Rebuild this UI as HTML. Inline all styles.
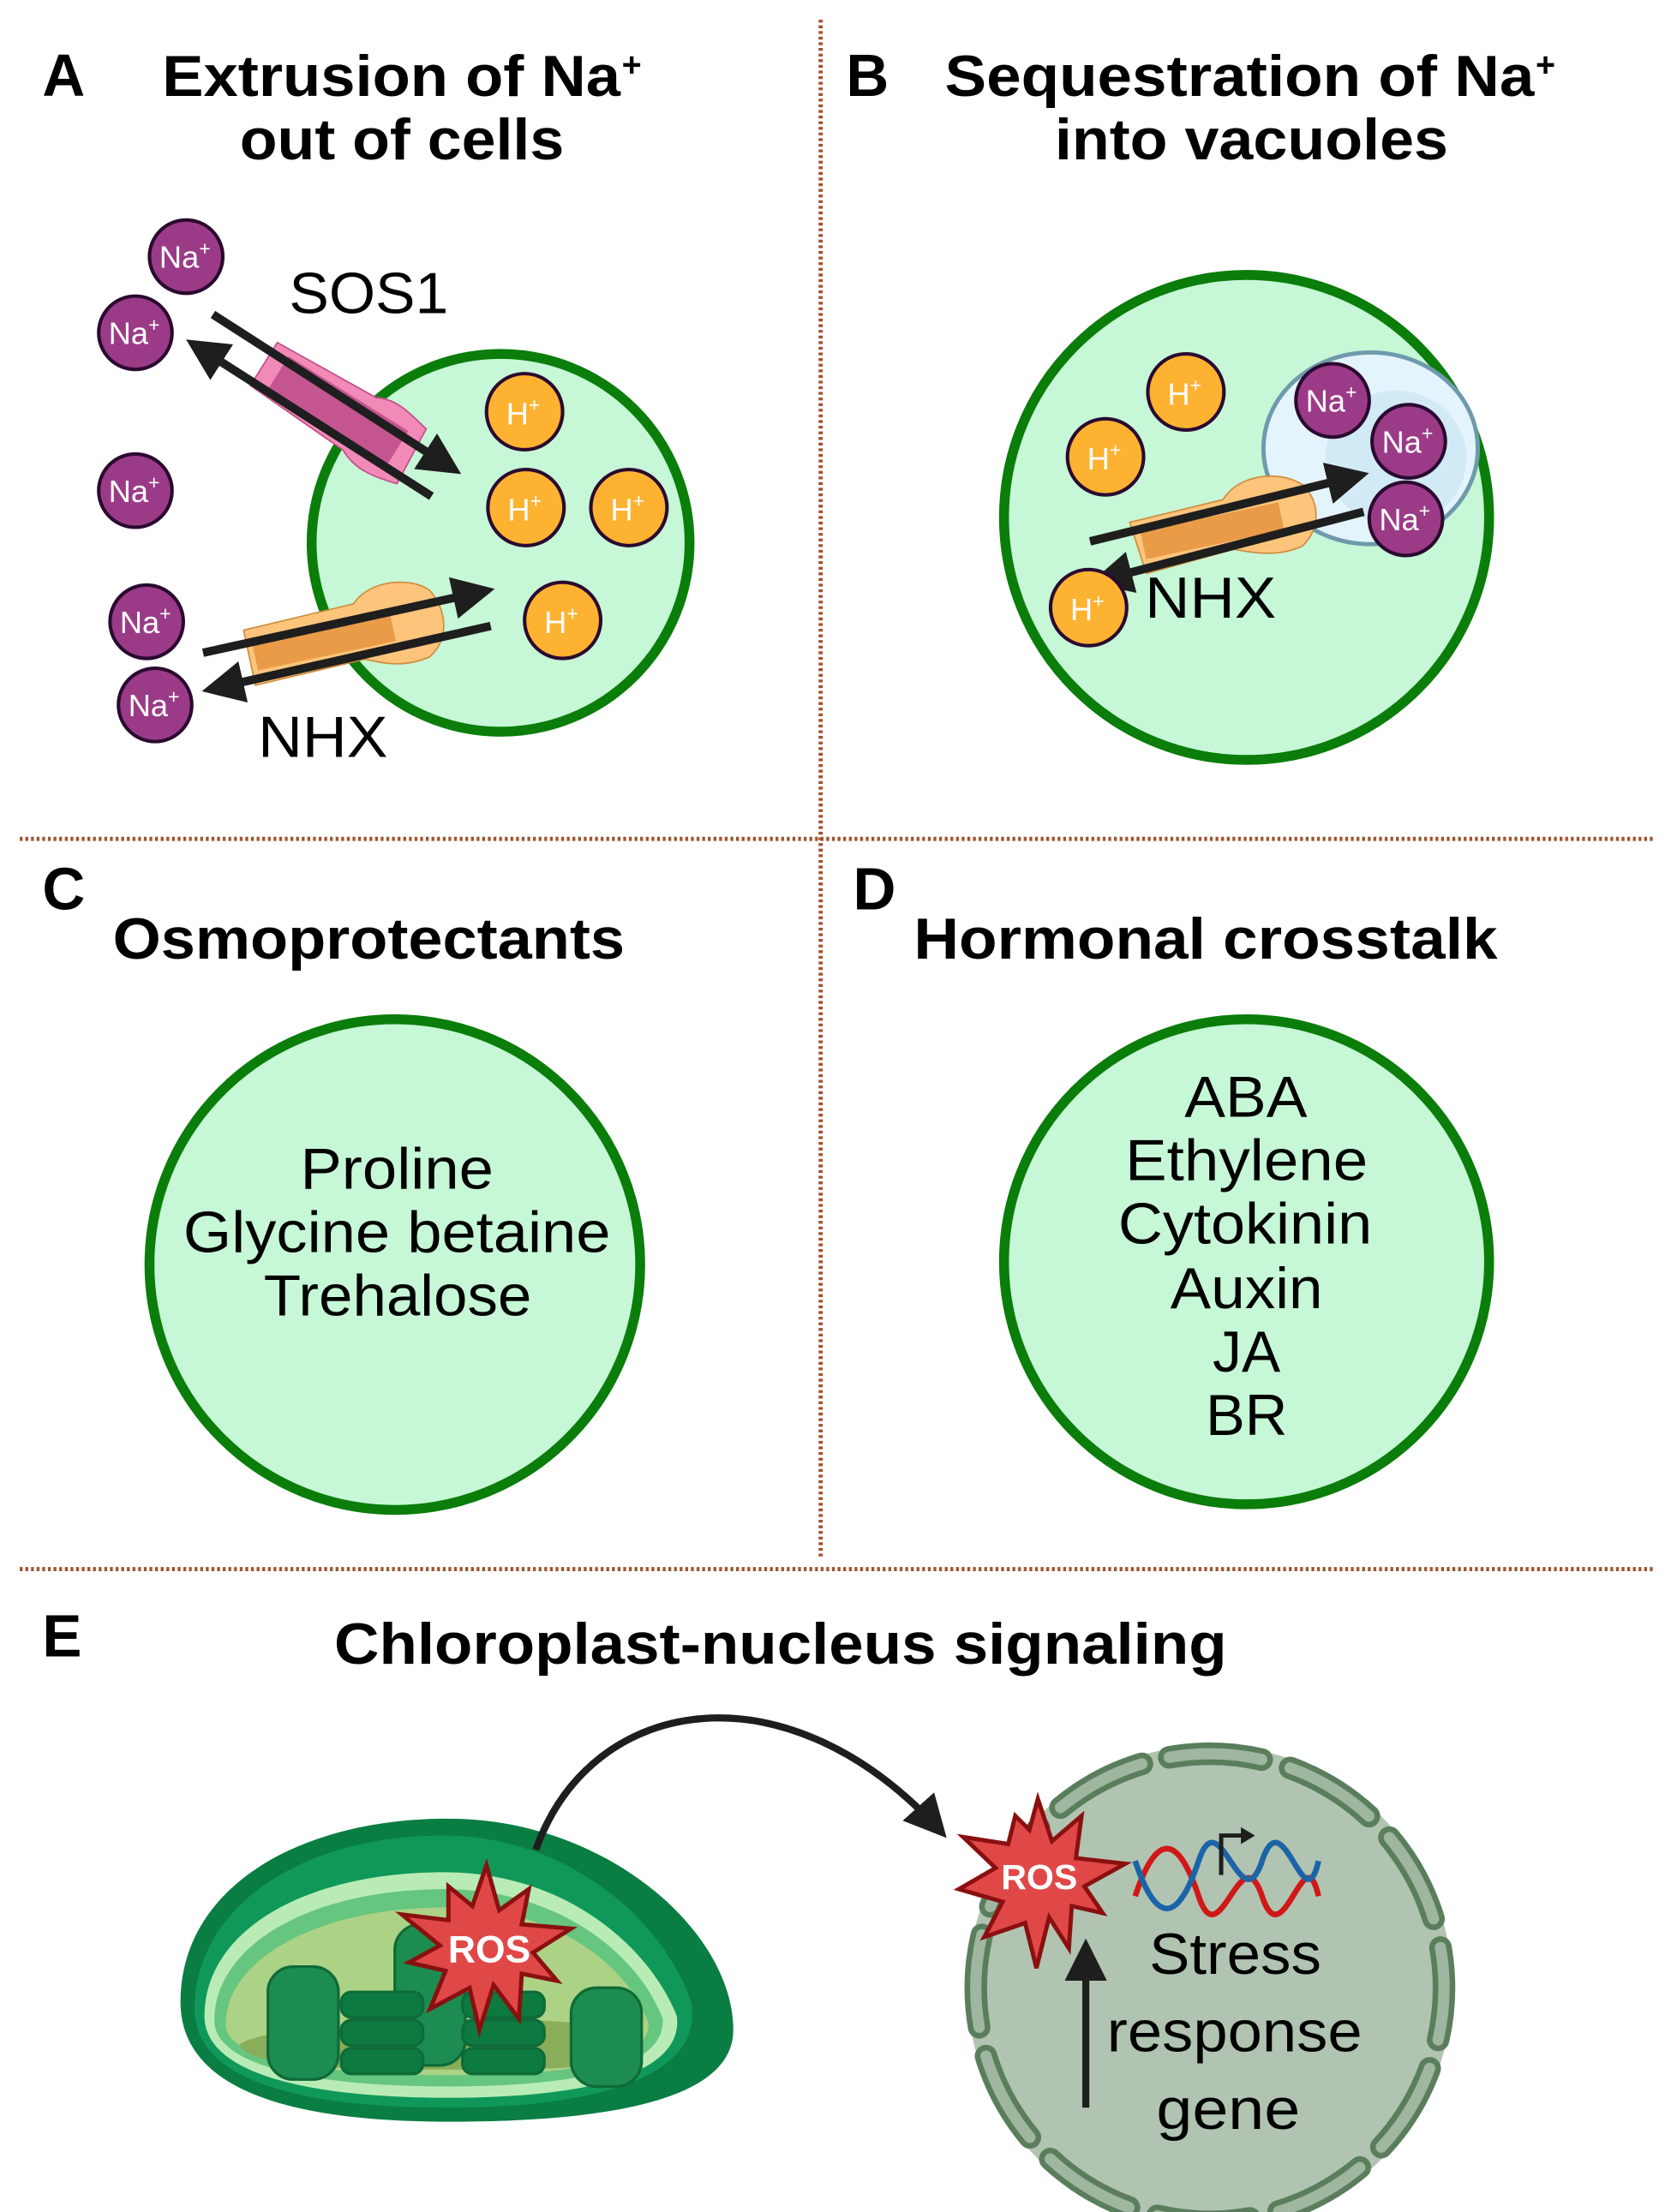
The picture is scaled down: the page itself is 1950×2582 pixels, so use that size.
<!DOCTYPE html>
<html><head><meta charset="utf-8"><style>
html,body{margin:0;padding:0;background:#fff}
svg{display:block}
text{font-family:"Liberation Sans",Arial,sans-serif}
.t{font-weight:bold;font-size:41px;fill:#000}
.l{font-size:41px;fill:#000}
.na{font-size:22px;fill:#fff}
.h{font-size:22px;fill:#fff}
</style></head><body>
<svg width="1950" height="2582" viewBox="0 0 1185 1569" xmlns="http://www.w3.org/2000/svg">
<defs>
<marker id="ah" markerWidth="5" markerHeight="5" refX="4" refY="2.5" orient="auto" markerUnits="strokeWidth">
<path d="M0,0 L5,2.5 L0,5 Z" fill="#1e1e1e"/></marker>
<marker id="ah2" markerWidth="6" markerHeight="6" refX="5" refY="3" orient="auto" markerUnits="strokeWidth">
<path d="M0,0 L6,3 L0,6 Z" fill="#1e1e1e"/></marker>
</defs>
<rect width="1185" height="1569" fill="#fff"/>
<g stroke="#a0522d" stroke-width="3" stroke-dasharray="2,2">
<line x1="582" y1="14" x2="582" y2="1106"/>
<line x1="14" y1="595" x2="1173" y2="595"/>
<line x1="14" y1="1113" x2="1173" y2="1113"/>
</g>

<!-- Panel A -->
<text class="t" x="30" y="68" style="font-size:42px">A</text>
<text class="t" x="115" y="68" textLength="325" lengthAdjust="spacingAndGlyphs">Extrusion of Na</text>
<text class="t" x="441" y="54" style="font-size:24px">+</text>
<text class="t" x="170" y="113" textLength="230" lengthAdjust="spacingAndGlyphs">out of cells</text>
<circle cx="355" cy="385" r="134" fill="#c6f7d6" stroke="#0a7d0a" stroke-width="7"/>
<g transform="translate(238,290) rotate(32)">
<path d="M-60,-18 L20,-22 C35,-30 50,-24 62,-22 L65,22 C50,26 35,30 20,22 L-60,18 Z" fill="#f28ab8" stroke="#c04a8a" stroke-width="1"/>
<rect x="-48" y="-14" width="100" height="28" fill="#c45590"/>
</g>
<line x1="151" y1="223" x2="322" y2="333" stroke="#1e1e1e" stroke-width="6" marker-end="url(#ah)"/>
<line x1="306" y1="352" x2="137" y2="244" stroke="#1e1e1e" stroke-width="6" marker-end="url(#ah)"/>
<text class="l" x="205" y="222" textLength="113" lengthAdjust="spacingAndGlyphs">SOS1</text>
<g transform="translate(245,450) rotate(-12)">
<path d="M-70,-18 L10,-20 C25,-35 55,-30 65,-18 C75,0 70,20 55,28 C35,32 20,25 10,20 L-70,22 Z" fill="#fdc47c" stroke="#d08a3a" stroke-width="1"/>
<rect x="-66" y="-10" width="100" height="22" fill="#e99b48"/>
</g>
<line x1="144" y1="463" x2="345" y2="419" stroke="#1e1e1e" stroke-width="6" marker-end="url(#ah)"/>
<line x1="348" y1="444" x2="149" y2="489" stroke="#1e1e1e" stroke-width="6" marker-end="url(#ah)"/>
<text class="l" x="183" y="537" textLength="92" lengthAdjust="spacingAndGlyphs">NHX</text>
<g stroke="#2a0a30" stroke-width="2.5">
<circle cx="132" cy="182" r="26" fill="#9b3b87"/>
<circle cx="96" cy="236" r="26" fill="#9b3b87"/>
<circle cx="96" cy="348" r="26" fill="#9b3b87"/>
<circle cx="104" cy="441" r="26" fill="#9b3b87"/>
<circle cx="110" cy="500" r="26" fill="#9b3b87"/>
<circle cx="372" cy="292" r="27" fill="#fdb232"/>
<circle cx="373" cy="360" r="27" fill="#fdb232"/>
<circle cx="446" cy="360" r="27" fill="#fdb232"/>
<circle cx="399" cy="440" r="27" fill="#fdb232"/>
</g>
<text class="na" x="113" y="190">Na<tspan font-size="14" dy="-9">+</tspan></text>
<text class="na" x="77" y="244">Na<tspan font-size="14" dy="-9">+</tspan></text>
<text class="na" x="77" y="356">Na<tspan font-size="14" dy="-9">+</tspan></text>
<text class="na" x="85" y="449">Na<tspan font-size="14" dy="-9">+</tspan></text>
<text class="na" x="91" y="508">Na<tspan font-size="14" dy="-9">+</tspan></text>
<text class="h" x="359" y="301">H<tspan font-size="14" dy="-9">+</tspan></text>
<text class="h" x="360" y="369">H<tspan font-size="14" dy="-9">+</tspan></text>
<text class="h" x="433" y="369">H<tspan font-size="14" dy="-9">+</tspan></text>
<text class="h" x="386" y="449">H<tspan font-size="14" dy="-9">+</tspan></text>

<!-- Panel B -->
<text class="t" x="600" y="68" style="font-size:42px">B</text>
<text class="t" x="670" y="68" textLength="418" lengthAdjust="spacingAndGlyphs">Sequestration of Na</text>
<text class="t" x="1089" y="54" style="font-size:24px">+</text>
<text class="t" x="748" y="113" textLength="279" lengthAdjust="spacingAndGlyphs">into vacuoles</text>
<circle cx="884" cy="367" r="172" fill="#c6f7d6" stroke="#0a7d0a" stroke-width="7"/>
<ellipse cx="972" cy="318" rx="76" ry="68" fill="#e4f4fc" stroke="#6f9aac" stroke-width="3"/>
<ellipse cx="990" cy="325" rx="50" ry="48" fill="#d2eaf6"/>
<g transform="translate(871,372) rotate(-12)">
<path d="M-68,-16 L0,-18 C15,-34 45,-30 58,-16 C68,0 62,18 48,26 C30,30 15,24 0,18 L-64,22 Z" fill="#fdc47c" stroke="#d08a3a" stroke-width="1"/>
<rect x="-62" y="-8" width="100" height="20" fill="#e99b48"/>
</g>
<line x1="773" y1="384" x2="965" y2="337" stroke="#1e1e1e" stroke-width="6" marker-end="url(#ah)"/>
<line x1="967" y1="363" x2="779" y2="412" stroke="#1e1e1e" stroke-width="6" marker-end="url(#ah)"/>
<text class="l" x="812" y="438" textLength="93" lengthAdjust="spacingAndGlyphs">NHX</text>
<g stroke="#2a0a30" stroke-width="2.5">
<circle cx="945" cy="284" r="26" fill="#9b3b87"/>
<circle cx="999" cy="313" r="26" fill="#9b3b87"/>
<circle cx="997" cy="368" r="26" fill="#9b3b87"/>
<circle cx="841" cy="278" r="27" fill="#fdb232"/>
<circle cx="784" cy="324" r="27" fill="#fdb232"/>
<circle cx="772" cy="431" r="27" fill="#fdb232"/>
</g>
<text class="na" x="926" y="292">Na<tspan font-size="14" dy="-9">+</tspan></text>
<text class="na" x="980" y="321">Na<tspan font-size="14" dy="-9">+</tspan></text>
<text class="na" x="978" y="376">Na<tspan font-size="14" dy="-9">+</tspan></text>
<text class="h" x="828" y="287">H<tspan font-size="14" dy="-9">+</tspan></text>
<text class="h" x="771" y="333">H<tspan font-size="14" dy="-9">+</tspan></text>
<text class="h" x="759" y="440">H<tspan font-size="14" dy="-9">+</tspan></text>

<!-- Panel C -->
<text class="t" x="30" y="645" style="font-size:42px">C</text>
<text class="t" x="80" y="680" textLength="363" lengthAdjust="spacingAndGlyphs">Osmoprotectants</text>
<circle cx="280" cy="897" r="174" fill="#c6f7d6" stroke="#0a7d0a" stroke-width="7"/>
<text class="l" x="213" y="843" textLength="137" lengthAdjust="spacingAndGlyphs">Proline</text>
<text class="l" x="130" y="888" textLength="303" lengthAdjust="spacingAndGlyphs">Glycine betaine</text>
<text class="l" x="187" y="933" textLength="190" lengthAdjust="spacingAndGlyphs">Trehalose</text>

<!-- Panel D -->
<text class="t" x="605" y="645" style="font-size:42px">D</text>
<text class="t" x="648" y="680" textLength="414" lengthAdjust="spacingAndGlyphs">Hormonal crosstalk</text>
<circle cx="884" cy="895" r="172" fill="#c6f7d6" stroke="#0a7d0a" stroke-width="7"/>
<text class="l" x="840" y="792" textLength="87" lengthAdjust="spacingAndGlyphs">ABA</text>
<text class="l" x="798" y="837" textLength="172" lengthAdjust="spacingAndGlyphs">Ethylene</text>
<text class="l" x="793" y="882" textLength="180" lengthAdjust="spacingAndGlyphs">Cytokinin</text>
<text class="l" x="830" y="928" textLength="108" lengthAdjust="spacingAndGlyphs">Auxin</text>
<text class="l" x="860" y="973" textLength="48" lengthAdjust="spacingAndGlyphs">JA</text>
<text class="l" x="855" y="1018" textLength="58" lengthAdjust="spacingAndGlyphs">BR</text>

<!-- Panel E -->
<text class="t" x="30" y="1175" style="font-size:42px">E</text>
<text class="t" x="237" y="1180" textLength="633" lengthAdjust="spacingAndGlyphs">Chloroplast-nucleus signaling</text>
<path d="M128,1420 C128,1340 210,1290 318,1290 C430,1290 520,1370 520,1440 C520,1490 430,1505 318,1505 C200,1505 128,1480 128,1420 Z" fill="#0a7d43"/>
<path d="M138,1425 C138,1355 210,1302 315,1302 C400,1302 470,1360 490,1420 C500,1470 430,1495 318,1495 C210,1495 138,1475 138,1425 Z" fill="#10985a"/>
<path d="M145,1430 C145,1370 215,1328 315,1328 C400,1328 460,1380 480,1430 C485,1470 420,1488 318,1488 C215,1488 145,1470 145,1430 Z" fill="#b9ecb5"/>
<path d="M152,1433 C152,1380 220,1340 315,1340 C395,1340 452,1385 470,1432 C472,1465 415,1480 318,1480 C220,1480 152,1465 152,1433 Z" fill="#66c57e"/>
<path d="M160,1436 C160,1390 225,1353 315,1353 C392,1353 444,1392 460,1435 C460,1462 410,1472 318,1472 C225,1472 160,1460 160,1436 Z" fill="#acd285"/>
<path d="M170,1450 C200,1430 430,1425 455,1445 C450,1468 405,1468 318,1468 C230,1468 175,1465 170,1450 Z" fill="#8aad5a"/>
<g fill="#1d8c50" stroke="#0e6b38" stroke-width="2">
<rect x="190" y="1395" width="50" height="80" rx="18"/>
<rect x="405" y="1410" width="50" height="70" rx="18"/>
<rect x="280" y="1365" width="50" height="100" rx="18"/>
<rect x="242" y="1413" width="58" height="18" rx="7" fill="#0d7a3f"/>
<rect x="242" y="1433" width="58" height="18" rx="7" fill="#0d7a3f"/>
<rect x="242" y="1453" width="58" height="18" rx="7" fill="#0d7a3f"/>
<rect x="328" y="1413" width="58" height="18" rx="7" fill="#0d7a3f"/>
<rect x="328" y="1433" width="58" height="18" rx="7" fill="#0d7a3f"/>
<rect x="328" y="1453" width="58" height="18" rx="7" fill="#0d7a3f"/>
</g>
<polygon points="345,1323 354,1355 375,1340 370,1365 405,1368 378,1385 395,1405 370,1400 368,1432 350,1408 340,1440 333,1410 305,1425 316,1398 290,1392 312,1380 285,1358 318,1362 318,1338 335,1352" fill="#e04848" stroke="#8a1010" stroke-width="3"/>
<text x="347" y="1392" text-anchor="middle" font-weight="bold" font-size="27" fill="#fff">ROS</text>
<circle cx="858" cy="1410" r="172" fill="#b0c4b1"/>
<circle cx="858" cy="1410" r="166" fill="none" stroke="#5a7e5c" stroke-width="16" stroke-linecap="round" stroke-dasharray="66,21" transform="rotate(-100 858 1410)"/>
<circle cx="858" cy="1410" r="166" fill="none" stroke="#9fb6a0" stroke-width="8" stroke-linecap="round" stroke-dasharray="66,21" transform="rotate(-100 858 1410)"/>
<path d="M380,1312 C420,1200 560,1180 668,1300" fill="none" stroke="#1e1e1e" stroke-width="5" marker-end="url(#ah2)"/>
<line x1="770" y1="1495" x2="770" y2="1380" stroke="#1e1e1e" stroke-width="5" marker-end="url(#ah2)"/>
<polygon points="736,1276 746,1306 767,1288 763,1318 798,1322 769,1338 782,1357 760,1352 758,1382 744,1360 735,1396 727,1364 698,1374 711,1349 680,1340 706,1325 683,1303 715,1308 720,1288 730,1298" fill="#e04848" stroke="#8a1010" stroke-width="3"/>
<text x="737" y="1340" text-anchor="middle" font-weight="bold" font-size="25" fill="#fff">ROS</text>
<path d="M805,1345 C820,1300 835,1300 850,1345 S880,1300 895,1345 S925,1300 935,1345" fill="none" stroke="#d01818" stroke-width="4"/>
<path d="M805,1320 C820,1365 835,1365 850,1320 S880,1365 895,1320 S925,1365 935,1320" fill="none" stroke="#1c64a8" stroke-width="4"/>
<path d="M866,1330 L866,1302 L882,1302" fill="none" stroke="#1e1e1e" stroke-width="3"/>
<path d="M880,1296 L890,1302 L880,1308 Z" fill="#1e1e1e"/>
<text class="l" x="815" y="1400" textLength="122" lengthAdjust="spacingAndGlyphs">Stress</text>
<text class="l" x="785" y="1455" textLength="181" lengthAdjust="spacingAndGlyphs">response</text>
<text class="l" x="820" y="1510" textLength="102" lengthAdjust="spacingAndGlyphs">gene</text>
</svg>
</body></html>
